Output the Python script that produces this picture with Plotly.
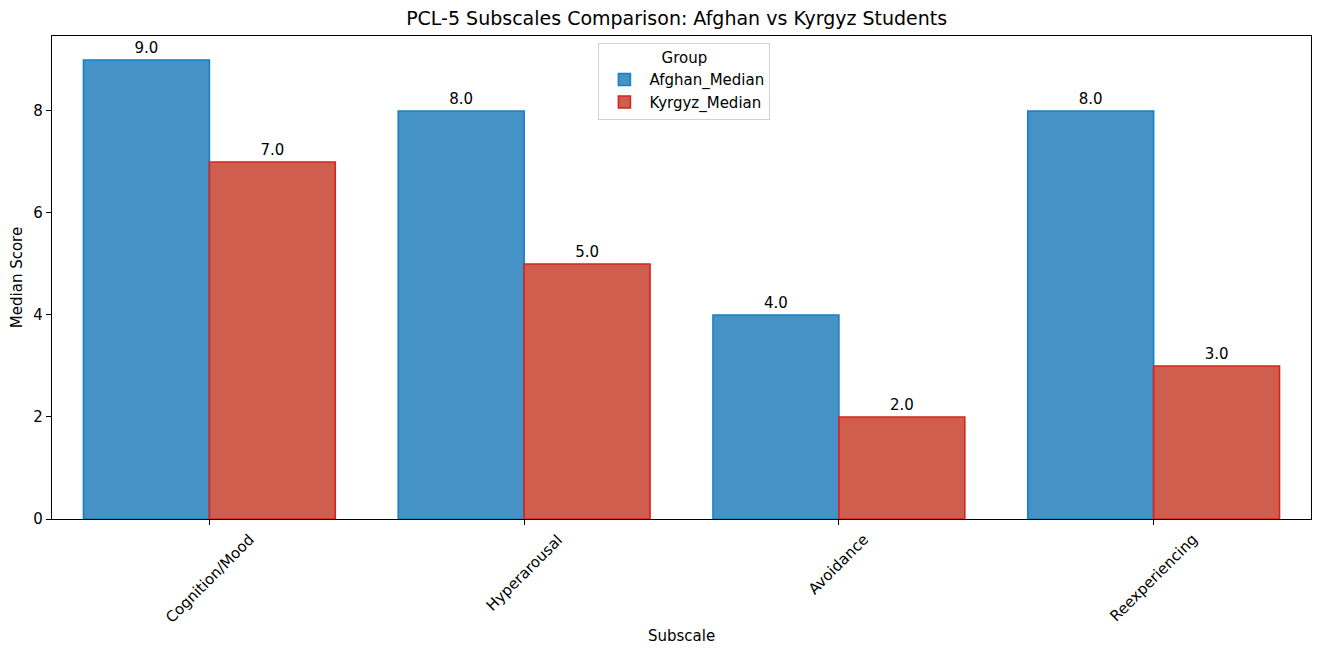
import plotly.graph_objects as go

subscales = ["Cognition/Mood", "Hyperarousal", "Avoidance", "Reexperiencing"]
afghan_median = [9.0, 8.0, 4.0, 8.0]
kyrgyz_median = [7.0, 5.0, 2.0, 3.0]

FONT = "DejaVu Sans, Arial, sans-serif"

fig = go.Figure()

fig.add_trace(go.Bar(
    x=subscales,
    y=afghan_median,
    name="Afghan_Median",
    marker=dict(color="#4592c6", line=dict(color="#1a7fc2", width=1.6)),
    text=[f"{v:.1f}" for v in afghan_median],
    textposition="outside",
    textfont=dict(size=15, color="black"),
    cliponaxis=False,
))

fig.add_trace(go.Bar(
    x=subscales,
    y=kyrgyz_median,
    name="Kyrgyz_Median",
    marker=dict(color="#d05e4f", line=dict(color="#d6241e", width=1.6)),
    text=[f"{v:.1f}" for v in kyrgyz_median],
    textposition="outside",
    textfont=dict(size=15, color="black"),
    cliponaxis=False,
))

# rotated category labels centred under each tick (like ha='center')
for name in subscales:
    fig.add_annotation(
        x=name, y=0, xref="x", yref="paper",
        text=name, textangle=-45, showarrow=False,
        xanchor="center", yanchor="top", yshift=-9,
        font=dict(size=15, color="black"),
    )

# x axis title, placed below the rotated labels
fig.add_annotation(
    x=0.5, y=0, xref="paper", yref="paper",
    text="Subscale", showarrow=False,
    xanchor="center", yanchor="bottom", yshift=-128,
    font=dict(size=15, color="black"),
)

# page body has an 8px margin, so the figure is sized to fit the window
fig.update_layout(
    width=1306,
    height=637,
    paper_bgcolor="white",
    plot_bgcolor="white",
    font=dict(family=FONT, size=15, color="black"),
    barmode="group",
    bargap=0.2,
    bargroupgap=0,
    margin=dict(l=44, r=3, t=28, b=126, autoexpand=False),
    title=dict(
        text="PCL-5 Subscales Comparison: Afghan vs Kyrgyz Students",
        x=0.512, xanchor="center", xref="container",
        y=0.984, yanchor="middle",
        font=dict(size=19),
    ),
    legend=dict(
        title=dict(text="Group", side="top center", font=dict(size=15)),
        x=0.434, xanchor="left", y=0.986, yanchor="top",
        bgcolor="rgba(255,255,255,0.8)",
        bordercolor="#d0d0d0", borderwidth=1,
        font=dict(size=15),
        itemwidth=40,
    ),
)

fig.update_xaxes(
    range=[-0.5, 3.5],
    showticklabels=False,
    showline=True, linecolor="black", linewidth=1.3, mirror=True,
    ticks="outside", ticklen=5, tickcolor="black",
    showgrid=False,
)

fig.update_yaxes(
    title=dict(text="Median Score", standoff=8, font=dict(size=15)),
    range=[0, 9.47],
    tickvals=[0, 2, 4, 6, 8],
    tickfont=dict(size=15),
    showline=True, linecolor="black", linewidth=1.3, mirror=True,
    ticks="outside", ticklen=5, tickcolor="black",
    showgrid=False, zeroline=False,
)

fig.write_html("out.html")
